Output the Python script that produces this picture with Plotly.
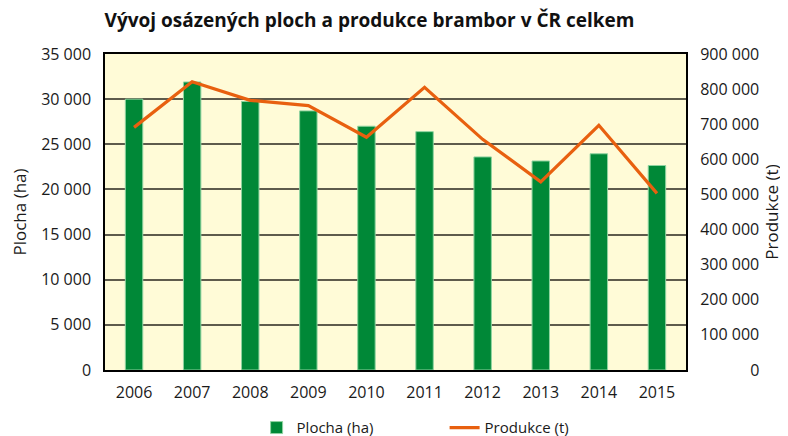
import plotly.graph_objects as go

years = ["2006", "2007", "2008", "2009", "2010", "2011", "2012", "2013", "2014", "2015"]
plocha_ha = [30000, 31900, 29750, 28700, 27000, 26400, 23600, 23150, 23950, 22650]
produkce_t = [691000, 821000, 768000, 753000, 663000, 805000, 657000, 536000, 697000, 503000]

right_tick_vals = [0, 100000, 200000, 300000, 400000, 500000, 600000, 700000, 800000, 900000]


def fmt_right(v):
    s = f"{v:,}".replace(",", " ")
    if len(s) < 7:
        s = "\u2007\u2007\u2007\u2008\u2007\u2007" + s
    return s


right_tick_text = [fmt_right(v) for v in right_tick_vals]

FONT = "Open Sans"

fig = go.Figure()
fig.add_trace(go.Bar(
    x=years, y=plocha_ha, name="Plocha (ha)",
    marker=dict(color="#008837", line=dict(color="#8fd3a0", width=1)),
    yaxis="y",
))
fig.add_trace(go.Scatter(
    x=years, y=produkce_t, name="Produkce (t)", mode="lines",
    line=dict(color="#e8600f", width=3.2),
    yaxis="y2",
))

# The page adds an 8px body margin, so the figure is drawn 780x428.
fig.update_layout(
    width=780, height=428,
    margin=dict(l=97, r=102, t=46, b=66, autoexpand=False),
    paper_bgcolor="white",
    plot_bgcolor="#fffbd7",
    separators=", ",
    font=dict(family=FONT, size=16, color="#1a1a1a"),
    title=dict(text="<b>Vývoj osázených ploch a produkce brambor v ČR celkem</b>",
               x=0.4635, xanchor="center", y=0.972, yanchor="middle",
               font=dict(family=FONT, size=19, color="#111111")),
    bargap=0.7,
    showlegend=True,
    legend=dict(orientation="h", x=0.5845, xanchor="center", y=-0.183, yanchor="middle",
                font=dict(family=FONT, size=15), itemwidth=30, tracegroupgap=0,
                entrywidth=143, entrywidthmode="pixels"),
    xaxis=dict(type="category", showline=True, mirror=True, linecolor="#000000", linewidth=1.5,
               ticks="outside", ticklen=7, tickcolor="rgba(0,0,0,0)", showgrid=False,
               tickfont=dict(size=16)),
    yaxis=dict(range=[0, 35000], dtick=5000, tickformat=",d", showgrid=True,
               gridcolor="#5e5b4c", gridwidth=1.5, showline=True, mirror=True,
               linecolor="#000000", linewidth=1.5, zeroline=False,
               ticks="outside", ticklen=9, tickcolor="rgba(0,0,0,0)",
               title=dict(text="Plocha (ha)\u2007\u2007\u2008", font=dict(size=17), standoff=13)),
    yaxis2=dict(range=[0, 900000], overlaying="y", side="right", showgrid=False,
                tickvals=right_tick_vals, ticktext=right_tick_text, zeroline=False,
                ticks="outside", ticklen=10, tickcolor="rgba(0,0,0,0)",
                title=dict(text="Produkce (t)\u2007\u2007\u2007\u2007\u2007\u2008",
                           font=dict(size=17), standoff=7)),
)

fig.write_html("out.html")
